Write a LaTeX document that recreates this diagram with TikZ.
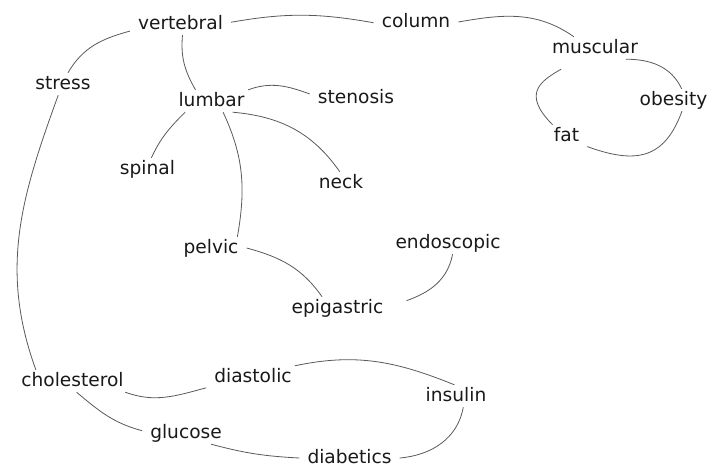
\documentclass[tikz,border=0pt]{standalone}
\usepackage{fontspec}
\setmainfont{DejaVu Sans}
\begin{document}
\begin{tikzpicture}[x=1pt,y=1pt,
 lbl/.style={font=\fontsize{18.6}{20}\selectfont, text=black!90, inner xsep=8pt, inner ysep=2pt, text height=14pt, text depth=4pt, anchor=base},
 edge/.style={draw=black!65, line width=0.8pt}]
\useasboundingbox (0,0) rectangle (708,-466);
\node[lbl] (vertebral) at (180.5,-29) {vertebral};
\node[lbl] (column) at (416,-27) {column};
\node[lbl] (muscular) at (595,-53) {muscular};
\node[lbl] (obesity) at (673.5,-105) {obesity};
\node[lbl] (fat) at (566.5,-141) {fat};
\node[lbl] (stress) at (63,-89) {stress};
\node[lbl] (lumbar) at (211.5,-106) {lumbar};
\node[lbl] (stenosis) at (356,-103) {stenosis};
\node[lbl] (spinal) at (147.5,-174) {spinal};
\node[lbl] (neck) at (341,-188) {neck};
\node[lbl] (pelvic) at (211,-253) {pelvic};
\node[lbl] (endoscopic) at (448,-248) {endoscopic};
\node[lbl] (epigastric) at (337.5,-313) {epigastric};
\node[lbl] (cholesterol) at (72.5,-386) {cholesterol};
\node[lbl] (diastolic) at (253,-382) {diastolic};
\node[lbl] (insulin) at (456,-401) {insulin};
\node[lbl] (glucose) at (186,-438) {glucose};
\node[lbl] (diabetics) at (349.5,-463) {diabetics};

\draw[edge] (stress.66) to[out=60,in=195] (vertebral.188);
\draw[edge] (vertebral.2) to[out=10,in=170] (column.181);
\draw[edge] (column.0) to[out=10,in=145] (muscular.152);
\draw[edge] (muscular.-20) to[out=0,in=115] (obesity.54);
\draw[edge] (obesity.-53) to[out=-110,in=-20,looseness=1.3] (fat.-27);
\draw[edge,shorten <=20pt] (muscular.-146) to[out=-150,in=135,looseness=1.6] (fat.141);
\draw[edge] (vertebral.-80) to[out=-95,in=120] (lumbar.145);
\draw[edge] (lumbar.17) to[out=20,in=160] (stenosis.175);
\draw[edge] (lumbar.-157) to[out=-135,in=65] (spinal.71);
\draw[edge] (lumbar.-28) to[out=-5,in=125] (neck.96);
\draw[edge] (lumbar.-44) to[out=-65,in=80] (pelvic.23);
\draw[edge] (stress.-113) to[out=-110,in=110] (cholesterol.163);
\draw[edge] (pelvic.0) to[out=-15,in=125] (epigastric.144);
\draw[edge,shorten <=16pt] (epigastric.2) to[out=20,in=-100] (endoscopic.-68);
\draw[edge] (cholesterol.-12.5) to[out=-20,in=195] (diastolic.193);
\draw[edge] (diastolic.15) to[out=12,in=158] (insulin.98);
\draw[edge] (cholesterol.-70) to[out=-40,in=165] (glucose.177);
\draw[edge] (glucose.-24) to[out=-15,in=177] (diabetics.180);
\draw[edge] (diabetics.0) to[out=5,in=-100] (insulin.-57);
\end{tikzpicture}
\end{document}
